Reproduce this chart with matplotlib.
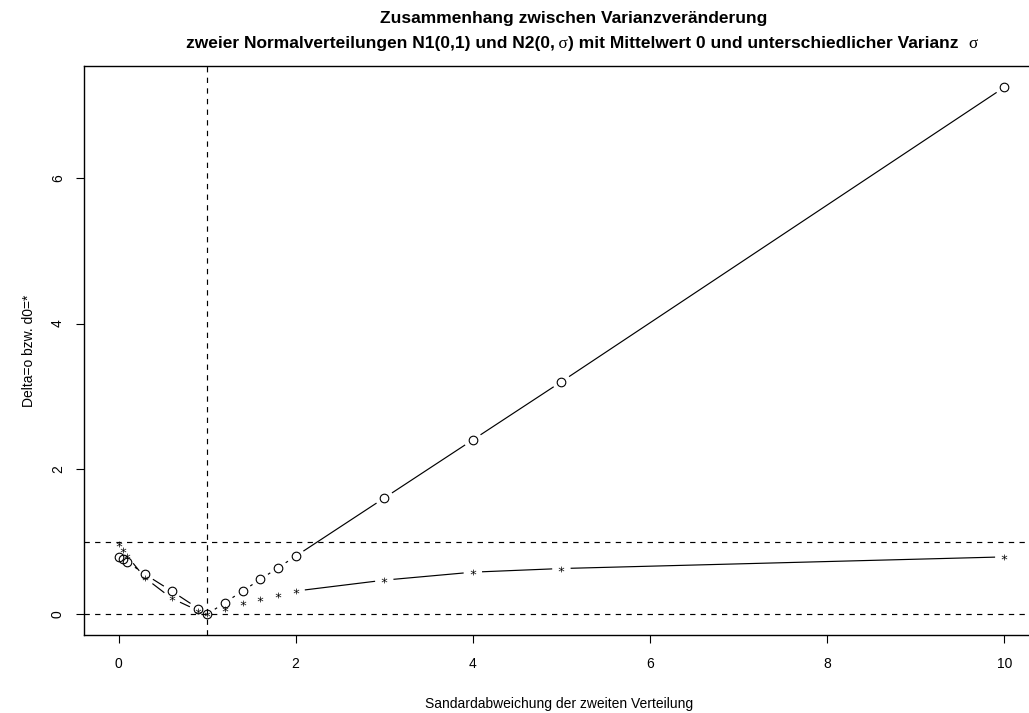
import numpy as np
import matplotlib
matplotlib.use("Agg")
import matplotlib.pyplot as plt

plt.rcParams['font.family'] = ['Liberation Sans', 'DejaVu Sans']

# standard deviation of the second distribution
sigma = [0.01, 0.05, 0.1, 0.3, 0.6, 0.9, 1.0, 1.2, 1.4, 1.6, 1.8, 2, 3, 4, 5, 10]
# Delta (o) and d0 (*)
delta = [0.79, 0.76, 0.72, 0.55, 0.32, 0.08, 0.0, 0.16, 0.32, 0.48, 0.64, 0.80, 1.60, 2.40, 3.20, 7.25]
d0 = [0.97, 0.88, 0.80, 0.50, 0.22, 0.05, 0.0, 0.08, 0.15, 0.21, 0.26, 0.32, 0.47, 0.58, 0.63, 0.79]

xticks = [0, 2, 4, 6, 8, 10]
yticks = [0, 2, 4, 6]
ref_h = [0, 1]
ref_v = [1]

title1 = "Zusammenhang zwischen Varianzveränderung"
title2 = ["zweier Normalverteilungen N1(0,1) und N2(0,", "\u2009\u03c3", ") mit Mittelwert 0 und unterschiedlicher Varianz  ", "\u03c3"]
xlab = "Sandardabweichung der zweiten Verteilung"
ylab = "Delta=o bzw. d0=*"

W, H = 1029, 713
fig = plt.figure(figsize=(W / 100, H / 100), dpi=100)
# plot region like R's, right edge runs past the image border
ax = fig.add_axes([84 / W, 1 - 635.4 / H, (1039.7 - 84) / W, (635.4 - 66.2) / H])

xr = max(sigma) - min(sigma)
ax.set_xlim(min(sigma) - 0.04 * xr, max(sigma) + 0.04 * xr)
yr = max(delta)
ax.set_ylim(-0.04 * yr, yr * 1.04)

lw = 0.85
dash = (0, (4.5, 4.5))
for h in ref_h:
    ax.axhline(h, color='black', lw=lw, ls=dash)
for v in ref_v:
    ax.axvline(v, color='black', lw=lw, ls=dash)


def type_b(x, y, gap=9.8, **kw):
    # segments between points, cut back around each point (like R type="b")
    pts = ax.transData.transform(np.column_stack([x, y]))
    inv = ax.transData.inverted()
    for p0, p1 in zip(pts[:-1], pts[1:]):
        d = p1 - p0
        L = np.hypot(d[0], d[1])
        if L <= 2 * gap:
            continue
        u = d / L
        a = inv.transform(p0 + u * gap)
        b = inv.transform(p1 - u * gap)
        ax.plot([a[0], b[0]], [a[1], b[1]], color='black', lw=lw, **kw)


type_b(sigma, delta)
type_b(sigma, d0)
ax.plot(sigma, delta, ls='none', marker='o', ms=6.2, mfc='none', mec='black', mew=0.8)
ax.plot(sigma, d0, ls='none', marker='$*$', ms=4.2, color='black', mew=0)

ax.spines['right'].set_visible(False)
for s in ['left', 'bottom', 'top']:
    ax.spines[s].set_linewidth(1.0)

ax.set_xticks(xticks)
ax.set_yticks(yticks)
ax.set_yticklabels([str(t) for t in yticks], rotation=90, va='center')
ax.tick_params(axis='both', direction='out', length=5.8, width=0.8, labelsize=10)
ax.tick_params(axis='x', pad=9.5)
ax.tick_params(axis='y', pad=8)

ax.set_xlabel(xlab, fontsize=10)
ax.xaxis.set_label_coords(0.497, -0.1205)
ax.xaxis.label.set_va('center')
ax.set_ylabel(ylab, fontsize=10)
ax.yaxis.set_label_coords(-0.0575, 0.5)
ax.yaxis.label.set_va('center')

# title, first line
fig.text(574 / W, 1 - 23.5 / H, title1, ha='center', va='baseline',
         fontsize=12.5, fontweight='bold')

# title, second line pieced together so the sigmas come out in a serif face
parts = []
for s in title2:
    if '\u03c3' in s:
        t = fig.text(0, 1 - 48 / H, s, ha='left', va='baseline', fontsize=12.5,
                     family=['Liberation Serif', 'DejaVu Serif'])
    else:
        t = fig.text(0, 1 - 48 / H, s, ha='left', va='baseline', fontsize=12.5,
                     fontweight='bold')
    parts.append(t)
fig.canvas.draw()
r = fig.canvas.get_renderer()
widths = [t.get_window_extent(r).width for t in parts]
x0 = 582 - sum(widths) / 2
for t, w in zip(parts, widths):
    t.set_x(x0 / W)
    x0 += w

fig.savefig("out.png", dpi=100)
